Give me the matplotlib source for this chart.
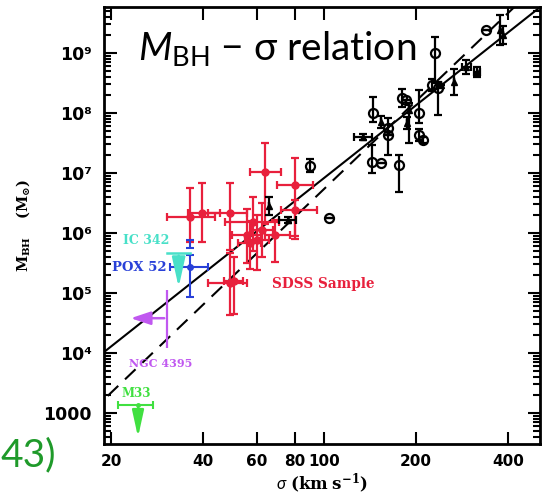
import matplotlib
matplotlib.use("Agg")
import matplotlib.pyplot as plt
import numpy as np
from matplotlib.ticker import FixedLocator, LogLocator, FuncFormatter, NullFormatter

plt.rcParams['mathtext.fontset'] = 'custom'
plt.rcParams['mathtext.rm'] = 'Lato'
plt.rcParams['mathtext.it'] = 'Lato:italic'
plt.rcParams['mathtext.bf'] = 'DejaVu Serif:bold'

# fits: log M = a + b * log(sigma / 200)
solid_fit = (8.13, 4.02)
dashed_fit = (8.20, 4.86)

# black, open circles: sigma, log M, dex down, dex up
blk_o_sig = [231, 226, 236, 145, 162, 162, 143, 153, 176, 180, 185, 204, 204, 210, 340, 90, 104]
blk_o_lm = [9.00, 8.47, 8.42, 8.00, 7.75, 7.63, 7.18, 7.17, 7.13, 8.25, 8.22, 8.00, 7.63, 7.55, 9.38, 7.12, 6.25]
blk_o_dn = [0.50, 0.10, 0.45, 0.15, 0.45, 0.0, 0.18, 0.0, 0.45, 0.15, 0.0, 0.17, 0.10, 0.05, 0.0, 0.10, 0.0]
blk_o_up = [0.27, 0.10, 0.10, 0.27, 0.17, 0.0, 0.28, 0.0, 0.17, 0.15, 0.0, 0.38, 0.10, 0.05, 0.0, 0.12, 0.0]

# black, filled: sigma, log M, dex down, dex up, sigma err
blk_f_sig = [242, 266, 292, 317, 153, 134, 190, 187, 377, 385, 66, 76]
blk_f_lm = [8.47, 8.52, 8.77, 8.68, 7.85, 7.60, 8.05, 7.83, 9.38, 9.30, 6.45, 6.22]
blk_f_dn = [0.0, 0.22, 0.12, 0.08, 0.10, 0.05, 0.55, 0.10, 0.25, 0.15, 0.15, 0.05]
blk_f_up = [0.0, 0.22, 0.12, 0.08, 0.10, 0.05, 0.12, 0.10, 0.25, 0.15, 0.15, 0.05]
blk_f_se = [0, 0, 10, 8, 0, 9, 0, 0, 0, 0, 0, 5]

# SDSS sample (red): sigma, log M, sigma low/high edge, log M low/high edge
sdss_sig = [36.3, 39.7, 49.0, 58.4, 55.8, 60.0, 57.0, 68.9, 49.0, 64.0, 80.0, 80.0, 62.6, 50.5]
sdss_lm = [6.27, 6.33, 6.33, 6.18, 5.97, 5.88, 5.83, 5.97, 5.17, 7.02, 6.80, 6.38, 6.05, 5.20]
sdss_slo = [30.6, 35.6, 41.5, 47.4, 50.0, 55.0, 52.0, 64.0, 41.5, 57.0, 70.0, 72.0, 58.0, 47.0]
sdss_shi = [43.9, 45.5, 55.7, 71.0, 62.0, 66.0, 62.0, 77.0, 55.7, 72.0, 92.0, 95.0, 68.0, 54.0]
sdss_llo = [5.85, 5.85, 5.72, 5.70, 5.50, 5.38, 5.40, 5.52, 4.63, 6.15, 5.95, 5.90, 5.60, 4.65]
sdss_lhi = [6.75, 6.83, 6.83, 6.60, 6.40, 6.30, 6.20, 6.22, 5.67, 7.50, 7.25, 6.55, 6.50, 5.60]

# individual objects
pox_sig, pox_lm, pox_s = 36.3, 5.43, (31.3, 41.6)
pox_l = (4.93, 5.63)
pox2_lm, pox2_l = 5.82, (5.75, 5.88)
ic_sig, ic_s, ic_lm, ic_tip = 33.3, (30.6, 36.3), 5.67, 5.05
ngc_sig, ngc_lm, ngc_l, ngc_tip = 30.5, 4.58, (4.08, 5.05), 22.7
m33_sig, m33_s, m33_lm, m33_tip = 24.5, (21.1, 27.4), 3.13, 2.55

xticks = [20, 40, 60, 80, 100, 200, 400]

red = '#e8203c'
blue = '#2840d8'
cyan = '#48e0c8'
purple = '#c058f0'
green = '#40e040'

fig = plt.figure(figsize=(5.46, 4.98), dpi=100)
ax = fig.add_axes([0.1905, 0.1084, 0.7985, 0.8775])
ax.set_xscale('log')
ax.set_yscale('log')

s = np.array([15, 600])
for (a, b), ls in [(solid_fit, '-'), (dashed_fit, (0, (7, 4.5)))]:
    ax.plot(s, 10 ** (a + b * np.log10(s / 200)), color='black', lw=1.5, ls=ls, zorder=2)


def m_err(lm, dn, up):
    lm, dn, up = np.array(lm), np.array(dn), np.array(up)
    return [10 ** lm - 10 ** (lm - dn), 10 ** (lm + up) - 10 ** lm]


ax.errorbar(blk_o_sig, 10 ** np.array(blk_o_lm), yerr=m_err(blk_o_lm, blk_o_dn, blk_o_up),
            fmt='o', ms=6.5, mfc='none', mec='black', mew=1.6, ecolor='black',
            elinewidth=1.6, capsize=3, capthick=1.6, zorder=4)
ax.errorbar(blk_f_sig, 10 ** np.array(blk_f_lm), yerr=m_err(blk_f_lm, blk_f_dn, blk_f_up),
            xerr=blk_f_se, fmt='^', ms=5, color='black', elinewidth=1.6, capsize=3,
            capthick=1.6, zorder=4)

sig = np.array(sdss_sig)
ax.errorbar(sig, 10 ** np.array(sdss_lm),
            xerr=[sig - np.array(sdss_slo), np.array(sdss_shi) - sig],
            yerr=[10 ** np.array(sdss_lm) - 10 ** np.array(sdss_llo),
                  10 ** np.array(sdss_lhi) - 10 ** np.array(sdss_lm)],
            fmt='o', ms=5, color=red, elinewidth=1.6, capsize=3, capthick=1.6, zorder=3)

# POX 52
ax.errorbar([pox_sig], [10 ** pox_lm],
            xerr=[[pox_sig - pox_s[0]], [pox_s[1] - pox_sig]],
            yerr=[[10 ** pox_lm - 10 ** pox_l[0]], [10 ** pox_l[1] - 10 ** pox_lm]],
            fmt='o', ms=4, color=blue, elinewidth=1.5, capsize=3, capthick=1.5, zorder=5)
ax.errorbar([pox_sig], [10 ** pox2_lm],
            yerr=[[10 ** pox2_lm - 10 ** pox2_l[0]], [10 ** pox2_l[1] - 10 ** pox2_lm]],
            fmt='none', ecolor=blue, elinewidth=1.5, capsize=3, capthick=1.5, zorder=5)

# IC 342 (upper limit)
ax.plot(ic_s, [10 ** ic_lm] * 2, color=cyan, lw=1.8, zorder=5)
ax.annotate('', xy=(ic_sig, 10 ** ic_tip), xytext=(ic_sig, 10 ** ic_lm),
            arrowprops=dict(arrowstyle='-|>,head_length=1.8,head_width=0.4', color=cyan, lw=1.8),
            zorder=5)

# NGC 4395 (sigma upper limit)
ax.errorbar([ngc_sig], [10 ** ngc_lm],
            yerr=[[10 ** ngc_lm - 10 ** ngc_l[0]], [10 ** ngc_l[1] - 10 ** ngc_lm]],
            fmt='none', ecolor=purple, elinewidth=1.6, capsize=0, zorder=5)
ax.annotate('', xy=(ngc_tip, 10 ** ngc_lm), xytext=(ngc_sig, 10 ** ngc_lm),
            arrowprops=dict(arrowstyle='-|>,head_length=1.2,head_width=0.4', color=purple, lw=1.8),
            zorder=5)

# M33 (upper limit)
ax.errorbar([m33_sig], [10 ** m33_lm],
            xerr=[[m33_sig - m33_s[0]], [m33_s[1] - m33_sig]],
            fmt='o', ms=2.5, color=green, elinewidth=1.5, capsize=3, capthick=1.5, zorder=5)
ax.annotate('', xy=(m33_sig, 10 ** m33_tip), xytext=(m33_sig, 10 ** m33_lm),
            arrowprops=dict(arrowstyle='-|>,head_length=1.6,head_width=0.35', color=green, lw=1.8),
            zorder=5)

lab = dict(fontweight='bold', family='DejaVu Serif', va='center')
ax.text(21.8, 10 ** 5.88, 'IC 342', color=cyan, fontsize=9, **lab)
ax.text(20.1, 10 ** 5.43, 'POX 52', color=blue, fontsize=9.5, **lab)
ax.text(67.3, 10 ** 5.15, 'SDSS Sample', color=red, fontsize=9.8, **lab)
ax.text(22.9, 10 ** 3.83, 'NGC 4395', color=purple, fontsize=8, **lab)
ax.text(21.7, 10 ** 3.33, 'M33', color=green, fontsize=8.5, **lab)

ax.set_xlim(18.95, 510)
ax.set_ylim(10 ** 2.483, 10 ** 9.767)

ax.xaxis.set_major_locator(FixedLocator(xticks))
ax.xaxis.set_minor_locator(FixedLocator([]))
ax.xaxis.set_major_formatter(FuncFormatter(lambda v, p: '%d' % v))
ax.yaxis.set_major_locator(LogLocator(base=10, numticks=20))
ax.yaxis.set_minor_locator(LogLocator(base=10, subs=np.arange(2, 10), numticks=20))
ax.yaxis.set_minor_formatter(NullFormatter())
sup = str.maketrans('0123456789', '⁰¹²³⁴⁵⁶⁷⁸⁹')
ax.yaxis.set_major_formatter(FuncFormatter(
    lambda v, p: '1000' if round(np.log10(v)) == 3 else '10' + str(int(round(np.log10(v)))).translate(sup)))

ax.tick_params(which='both', direction='in', top=True, right=True, width=1.5, colors='black')
ax.tick_params(which='major', length=9, labelsize=11, pad=7)
ax.tick_params(axis='y', which='major', labelsize=12.5, pad=9)
ax.tick_params(which='minor', length=5)
for t in ax.get_xticklabels() + ax.get_yticklabels():
    t.set_fontweight('bold')
for sp in ax.spines.values():
    sp.set_linewidth(2)

ax.set_xlabel(r'$\sigma$ $\mathbf{(km\ s^{-1})}$', fontsize=12, labelpad=2)
ax.set_ylabel(r'$\mathbf{M_{BH}}$    $\mathbf{(M_{\odot})}$', fontsize=10.5, labelpad=8)

fig.text(0.253, 1 - 60 / 498, r'$M_{\mathrm{BH}}$ $-$ σ relation', fontsize=28,
         family='Lato', color='black', va='baseline')
fig.text(0.0, 1 - 466 / 498, '43)', fontsize=28, family='Lato', color='#1f9a2a', va='baseline')

fig.savefig('out.png', dpi=100)
